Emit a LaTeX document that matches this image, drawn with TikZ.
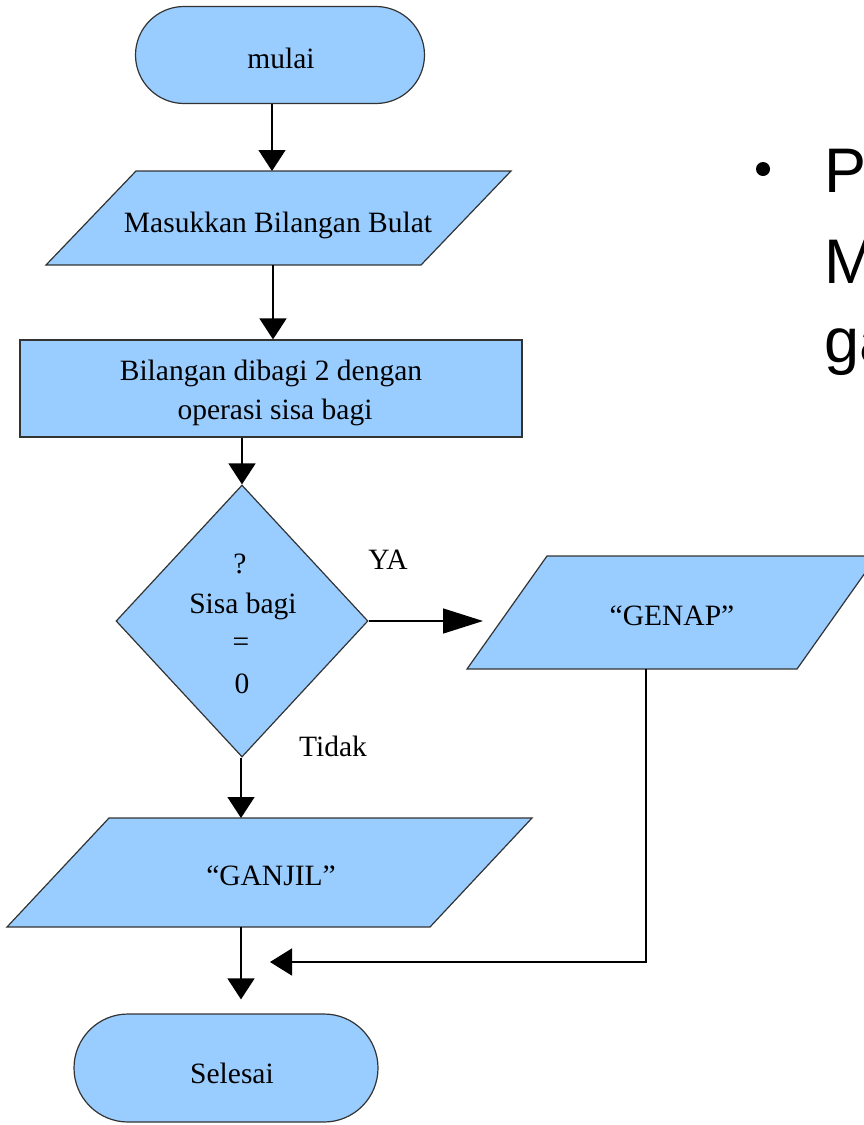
\documentclass[tikz,border=0pt]{standalone}
\usepackage{fontspec}
\setmainfont{Liberation Serif}
\newfontfamily\sansf{Liberation Sans}
\usetikzlibrary{shapes.geometric,shapes.misc,arrows.meta}
\definecolor{boxblue}{HTML}{99CCFF}
\definecolor{edgegray}{HTML}{333333}
\tikzset{
  shapebox/.style={draw=edgegray,fill=boxblue,line width=1.2pt},
  term/.style={shapebox,rounded rectangle,minimum width=289pt,minimum height=97pt,inner sep=0pt},
  selterm/.style={shapebox,rounded rectangle,minimum width=304pt,minimum height=108pt,inner sep=0pt},
  procbox/.style={shapebox,rectangle,minimum width=502pt,minimum height=97pt,inner sep=0pt},
  decbox/.style={shapebox,diamond,minimum width=252pt,minimum height=272pt,inner sep=0pt},
  lbl/.style={inner sep=0pt,anchor=base,font=\fontsize{29.5}{36}\selectfont},
  bigtxt/.style={inner sep=0pt,anchor=base west,font=\sansf\fontsize{63}{75}\selectfont},
  conn/.style={line width=1.5pt,draw=black},
  arrdown/.style={conn,-{Triangle[length=21pt,width=27pt]}},
  arrlong/.style={conn,-{Triangle[length=40pt,width=25pt]}},
}
\begin{document}
\begin{tikzpicture}[x=1pt,y=-1pt]
\useasboundingbox (0,0) rectangle (864,1125);
\clip (0,0) rectangle (864,1125);

% start
\node[term] (mulai) at (280,55) {};
\node[lbl] (tmulai) at (281,68) {mulai};

% input
\filldraw[shapebox] (136,171) -- (511,171) -- (421,265) -- (46,265) -- cycle;
\coordinate (intop) at (272,171);
\coordinate (inbot) at (273,265);
\node[lbl] (tin) at (278,232) {Masukkan Bilangan Bulat};

% process
\node[procbox] (proc) at (271,388.5) {};
\node[lbl] (tproca) at (271,380) {Bilangan dibagi 2 dengan};
\node[lbl] (tprocb) at (275,419) {operasi sisa bagi};

% decision
\node[decbox] (dec) at (242,621) {};
\node[lbl] (tdeca) at (240,573) {?};
\node[lbl] (tdecb) at (243,613) {Sisa bagi};
\node[lbl] (tdecc) at (241,651) {=};
\node[lbl] (tdecd) at (242,693) {0};
\node[lbl] (tya) at (388,569) {YA};
\node[lbl] (ttidak) at (333,756) {Tidak};

% GENAP
\filldraw[shapebox] (547,556) -- (877,556) -- (797,669) -- (467,669) -- cycle;
\coordinate (genapin) at (483,621);
\coordinate (genapbot) at (646,669);
\coordinate (mergept) at (270,962);
\node[lbl] (tgenap) at (672,625) {“GENAP”};

% GANJIL
\filldraw[shapebox] (109,818) -- (532,818) -- (430,927) -- (7,927) -- cycle;
\coordinate (ganjiltop) at (241,818);
\coordinate (ganjilbot) at (241,927);
\node[lbl] (tganjil) at (271,885) {“GANJIL”};

% end
\node[selterm] (sel) at (226,1068) {};
\node[lbl] (tsel) at (232,1083) {Selesai};

% connectors
\draw[arrdown] (mulai.south -| intop) -- (intop);
\draw[arrdown] (inbot) -- (inbot |- proc.north);
\draw[arrdown] (proc.south -| dec.north) -- (dec.north);
\draw[arrlong] (dec.east) -- (genapin);
\draw[arrdown] (dec.south -| ganjiltop) -- (ganjiltop);
\draw[arrdown,shorten >=14pt] (ganjilbot) -- (ganjilbot |- sel.north);
\draw[conn,-{Triangle[length=22pt,width=27pt]}] (genapbot) |- (mergept);

% right text
\fill (763,169) circle (7pt);
\node[bigtxt] (ta) at (824,192) {P};
\node[bigtxt] (tb) at (824,283) {M};
\node[bigtxt] (tc) at (824,362) {ga};
\end{tikzpicture}
\end{document}
